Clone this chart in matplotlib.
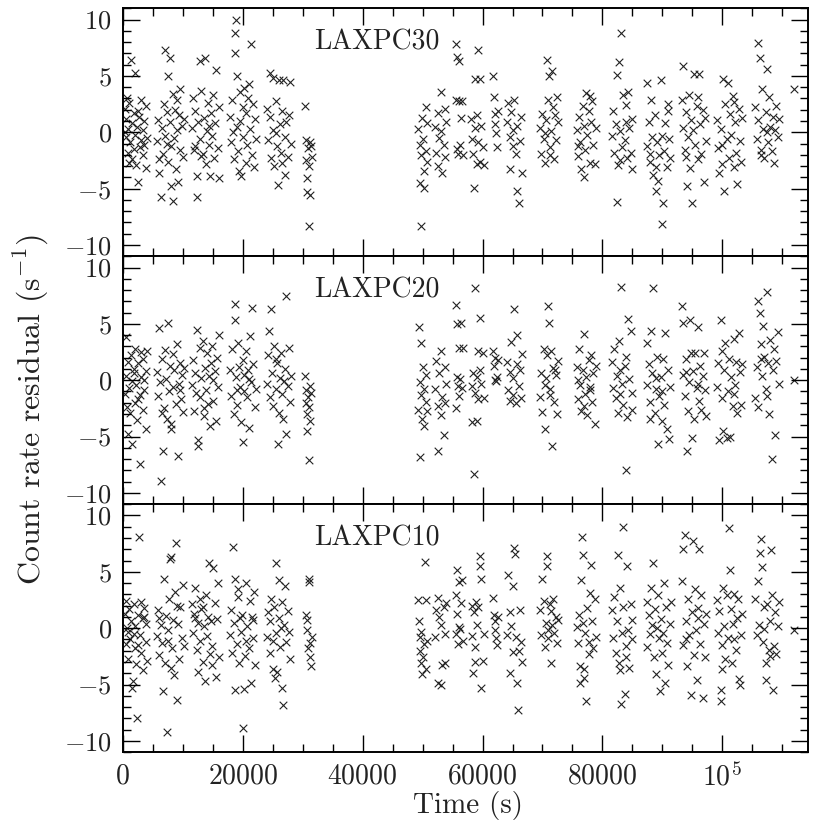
import numpy as np
import matplotlib.pyplot as plt
from matplotlib.ticker import MultipleLocator

plt.rcParams['font.family'] = ['cmr10', 'DejaVu Serif']
plt.rcParams['mathtext.fontset'] = 'cm'
plt.rcParams['axes.unicode_minus'] = False

# (time in ks, count rate residual in counts/s)
laxpc30 = [
    (0.3,2.1),(0.5,-0.4),(0.6,1.2),(0.8,-1.8),(0.9,0.3),(1.1,2.6),(1.2,-0.9),(1.4,6.4),(1.5,0.8),(1.6,-2.4),
    (1.8,1.7),(2.0,5.3),(2.1,-0.2),(2.2,-2.9),(2.4,0.5),(2.6,-4.4),(2.7,1.4),(2.9,-1.3),(3.0,2.9),(3.1,-0.7),
    (3.3,0.2),(3.4,-2.0),(3.6,1.0),(3.8,-3.2),(3.9,2.3),(4.1,-0.5),(0.7,3.0),(1.9,-1.5),(2.5,1.9),(3.5,-1.1),
    (0.4,0.0),(1.0,-2.7),
    (5.7,-0.8),(5.9,1.1),(6.1,-3.6),(6.3,-5.7),(6.5,0.4),(6.7,-1.9),(6.9,2.5),(7.0,7.3),(7.1,-0.3),(7.3,1.8),
    (7.5,5.0),(7.6,-2.6),(7.8,6.6),(7.9,0.9),(8.1,-1.2),(8.3,3.4),(8.4,-6.1),(8.5,-0.5),(8.7,2.0),(8.8,-3.3),
    (9.0,0.2),(9.2,-4.4),(9.3,1.5),(9.5,-1.6),(9.6,3.8),(9.8,0.6),(10.0,-2.2),(10.2,1.2),(6.0,-2.4),(8.0,-4.8),
    (9.1,2.9),(7.4,-1.0),
    (11.5,0.4),(11.7,3.0),(11.9,-1.6),(12.1,1.9),(12.3,-3.9),(12.4,-5.7),(12.6,0.9),(12.8,6.3),(12.9,-0.6),(13.1,3.7),
    (13.3,-1.9),(13.5,1.3),(13.7,6.6),(13.8,-2.8),(14.0,0.1),(14.2,2.6),(14.3,-1.1),(14.5,-3.9),(14.7,1.7),(14.9,-0.3),
    (15.0,3.3),(15.2,-2.3),(15.4,0.8),(15.6,5.5),(15.8,-1.4),(16.0,2.2),(16.1,-4.1),(12.0,-1.2),(13.0,-2.1),(14.4,0.6),
    (17.9,1.4),(18.1,-0.9),(18.3,2.9),(18.5,-2.4),(18.7,8.8),(18.8,7.0),(18.9,10.0),(19.0,0.5),(19.1,5.0),(19.3,-1.7),
    (19.5,3.6),(19.6,1.0),(19.8,-3.9),(20.0,2.2),(20.1,-0.4),(20.3,3.9),(20.5,-2.7),(20.6,1.7),(20.8,-1.1),(21.0,4.3),
    (21.2,0.3),(21.4,7.8),(21.5,-2.0),(21.7,2.5),(21.9,-3.1),(22.1,1.2),(22.2,-0.6),(18.4,0.0),(19.4,-3.4),(20.9,3.0),
    (24.1,2.1),(24.3,-0.7),(24.5,5.3),(24.6,1.4),(24.8,-2.3),(25.0,4.8),(25.1,0.2),(25.3,-3.0),(25.5,2.8),(25.7,-1.2),
    (25.9,-4.7),(26.0,4.6),(26.2,0.7),(26.4,-1.8),(26.6,1.9),(26.8,4.6),(27.0,-0.4),(27.1,-3.8),(27.3,0.9),(27.5,-2.2),
    (27.7,1.5),(27.9,4.5),(28.0,-1.0),(25.6,-0.1),(26.5,-2.7),
    (30.4,2.3),(30.5,-0.7),(30.6,-2.5),(30.7,-4.1),(30.8,-5.3),(30.9,-1.4),(31.0,-8.3),(31.1,-3.0),(31.2,-0.9),(31.3,-5.6),
    (31.4,-1.2),(31.5,-2.2),
    (49.3,0.3),(49.5,-1.1),(49.6,-4.5),(49.7,-8.3),(49.8,-2.0),(49.9,1.3),(50.1,-0.6),(50.2,-4.9),(50.3,-3.4),(50.5,-1.7),
    (50.6,2.2),(50.7,0.8),(50.8,-2.6),
    (52.1,0.5),(52.3,-1.8),(52.5,-3.0),(52.6,1.7),(52.8,-0.5),(53.0,3.6),(53.1,0.1),(53.3,-3.6),(53.5,-1.1),(53.7,2.1),
    (53.8,-2.2),(53.9,0.9),
    (55.5,7.8),(55.6,2.9),(55.7,-1.5),(55.8,6.7),(55.9,-1.9),(56.0,2.8),(56.1,6.3),(56.3,-1.1),(56.4,1.3),(56.6,2.8),
    (56.7,-2.0),
    (58.1,1.2),(58.3,-0.6),(58.4,-1.9),(58.5,-4.9),(58.7,0.4),(58.8,4.7),(59.0,-2.8),(59.1,1.5),(59.2,7.3),(59.3,-0.9),
    (59.5,4.7),(59.6,-2.6),(59.8,0.6),(60.0,-1.3),(60.2,-2.9),
    (61.8,5.0),(61.9,3.1),(62.0,1.6),(62.1,0.7),(62.2,-0.1),(62.4,-1.3),(62.5,1.9),
    (64.1,0.9),(64.3,2.6),(64.5,-0.4),(64.6,-3.3),(64.8,1.8),(65.0,-1.2),(65.1,0.2),(65.3,2.9),(65.5,-1.9),(65.7,-5.2),
    (65.8,0.6),(66.0,-6.3),(66.2,-0.8),(66.4,1.4),(66.6,-3.6),
    (69.6,0.4),(69.8,-1.9),(70.0,1.6),(70.2,-0.6),(70.4,-2.7),(70.6,1.1),(70.8,6.4),(70.9,2.9),(71.1,5.0),(71.2,-1.3),
    (71.4,0.1),(71.6,5.4),(71.8,2.2),(72.0,-2.4),(72.2,-0.7),(72.4,3.1),(72.6,0.9),(70.5,-0.1),(71.3,-2.0),(72.1,1.5),
    (75.7,0.2),(75.9,-2.1),(76.1,1.4),(76.3,-0.9),(76.5,-3.3),(76.7,2.3),(76.9,0.6),(77.1,-1.6),(77.3,3.5),(77.5,-0.2),
    (77.7,1.9),(77.9,-2.7),(78.1,0.9),(78.3,2.8),(78.5,-1.1),(78.7,-2.8),(78.9,0.4),(76.0,-1.2),(77.0,-4.0),(78.0,3.2),
    (81.6,-0.3),(81.8,1.9),(82.0,-1.8),(82.2,0.7),(82.4,5.1),(82.5,-6.2),(82.6,-2.9),(82.8,6.2),(82.9,0.1),(83.1,8.8),
    (83.3,-1.3),(83.5,3.3),(83.7,-0.7),(83.9,2.4),(84.1,-2.3),(84.3,3.6),(84.5,0.4),(84.7,-1.8),(84.9,-3.3),(85.0,1.2),
    (83.0,-2.5),(84.0,0.9),
    (87.4,4.4),(87.5,-1.2),(87.7,0.9),(87.9,-2.6),(88.1,2.9),(88.3,-0.4),(88.5,-3.8),(88.7,1.5),(88.9,-5.2),(89.1,-0.9),
    (89.3,-4.3),(89.5,-2.0),(89.7,4.6),(89.9,-8.1),(90.1,-6.3),(90.3,-1.7),(90.5,0.8),(90.7,-3.1),(90.9,1.9),(91.1,-0.6),
    (91.3,-2.3),(88.0,-1.9),(89.0,-3.1),(90.0,-0.3),(91.0,2.5),
    (93.2,2.9),(93.4,0.4),(93.5,5.9),(93.7,-1.6),(93.9,1.8),(94.1,-4.8),(94.2,-0.4),(94.4,3.3),(94.6,-3.2),(94.8,1.1),
    (95.0,-6.3),(95.1,0.2),(95.3,5.2),(95.5,-1.1),(95.7,2.3),(95.9,-2.4),(96.1,5.2),(96.3,0.7),(96.5,-1.9),(96.7,2.0),
    (96.9,-4.4),(97.1,1.3),(97.3,-0.8),(94.0,-2.2),(96.0,3.1),
    (99.1,1.1),(99.3,-1.4),(99.5,-3.6),(99.7,0.3),(99.9,-1.1),(100.1,4.7),(100.3,-5.2),(100.5,2.5),(100.7,-0.6),(100.9,4.4),
    (101.1,-2.3),(101.3,1.6),(101.5,-0.2),(101.7,3.2),(101.9,-3.1),(102.1,0.9),(102.3,-1.8),(102.5,-4.6),(102.7,2.1),(102.9,-0.8),
    (103.1,-2.6),(103.3,1.3),(100.0,-2.8),(102.0,2.7),
    (105.5,2.2),(105.7,-0.6),(105.9,7.9),(106.0,1.1),(106.2,6.6),(106.4,-1.6),(106.6,3.8),(106.8,0.3),(107.0,-2.3),(107.2,1.8),
    (107.4,5.6),(107.6,-0.9),(107.8,3.1),(108.0,0.5),(108.2,-1.7),(108.4,1.4),(108.6,-2.7),(108.8,0.2),(109.0,2.3),(109.2,-0.4),
    (109.4,1.2),(106.5,-2.0),(107.5,0.0),
    (112.0,3.8),
]

laxpc20 = [
    (0.3,-1.2),(0.5,3.8),(0.6,0.4),(0.8,-4.8),(0.9,1.6),(1.1,-0.7),(1.2,-2.9),(1.4,2.2),(1.5,-0.1),(1.6,-5.7),
    (1.8,1.0),(2.0,-2.0),(2.1,2.8),(2.2,-0.4),(2.4,-3.5),(2.6,1.5),(2.8,-7.4),(2.9,-1.3),(3.0,2.5),(3.1,0.3),
    (3.3,-2.6),(3.4,1.9),(3.6,-0.9),(3.8,-4.3),(3.9,0.8),(4.1,2.6),(0.7,-2.4),(1.9,0.6),(2.5,-1.7),(3.5,0.0),
    (5.7,0.7),(5.9,-1.4),(6.0,4.6),(6.2,-0.2),(6.4,-8.9),(6.5,1.9),(6.7,-6.3),(6.9,-2.5),(7.0,2.7),(7.2,0.1),
    (7.4,-3.4),(7.6,5.1),(7.7,-1.0),(7.9,1.3),(8.1,-3.9),(8.3,2.3),(8.4,-0.6),(8.6,0.9),(8.8,-2.1),(9.0,3.2),
    (9.2,-6.7),(9.3,-0.3),(9.5,1.5),(9.7,-1.7),(9.9,0.5),(10.1,-2.8),(10.2,1.1),(6.6,-2.9),(8.0,-4.3),(9.6,-0.9),
    (11.5,-0.4),(11.7,1.8),(11.9,-2.7),(12.1,0.6),(12.3,4.5),(12.5,-5.3),(12.6,-5.8),(12.8,2.9),(12.9,-1.5),(13.1,0.2),
    (13.3,3.5),(13.5,-3.2),(13.7,1.1),(13.8,-0.9),(14.0,2.4),(14.2,-2.1),(14.4,0.4),(14.5,-4.1),(14.7,1.5),(14.9,3.0),
    (15.1,-1.8),(15.3,0.8),(15.5,-3.6),(15.7,2.0),(15.9,-0.6),(16.1,4.0),(12.2,-1.1),(13.6,-2.5),(15.0,0.0),
    (17.9,0.9),(18.1,-1.4),(18.3,2.8),(18.5,-3.0),(18.7,5.3),(18.8,6.8),(18.9,0.3),(19.1,-2.2),(19.3,3.3),(19.4,1.2),
    (19.6,-0.6),(19.8,-3.7),(20.0,1.8),(20.1,-5.5),(20.3,0.5),(20.5,2.6),(20.7,-1.5),(20.9,0.9),(21.1,-4.2),(21.2,3.9),
    (21.4,-0.2),(21.6,6.4),(21.8,1.4),(22.0,-2.4),(22.2,-0.8),(19.0,-0.9),(20.2,-1.0),(21.0,0.1),
    (24.1,-0.3),(24.3,2.2),(24.4,4.4),(24.6,-1.5),(24.8,6.3),(24.9,0.6),(25.1,-2.3),(25.3,3.0),(25.5,-0.8),(25.7,1.5),
    (25.9,-5.7),(26.0,-2.9),(26.2,0.2),(26.4,2.4),(26.6,-1.2),(26.8,-3.4),(27.0,1.0),(27.2,-4.8),(27.3,7.5),(27.5,-0.5),
    (27.7,2.9),(27.9,-1.9),(28.0,0.4),(25.6,1.9),(26.9,-0.1),
    (30.4,0.4),(30.5,-0.9),(30.6,-2.0),(30.7,-3.0),(30.8,-4.5),(30.9,-1.5),(31.0,-7.1),(31.1,-2.4),(31.2,-0.5),(31.3,-3.6),
    (31.4,-1.1),
    (49.3,-2.6),(49.4,4.7),(49.5,-0.2),(49.6,-6.8),(49.7,-1.3),(49.8,3.3),(49.9,-3.4),(50.1,1.2),(50.2,-0.8),(50.3,-4.1),
    (50.5,-1.9),(50.6,0.5),(50.8,-2.7),
    (52.1,-0.8),(52.3,1.7),(52.5,-2.3),(52.6,-6.3),(52.8,0.6),(53.0,-3.1),(53.1,2.6),(53.3,-1.5),(53.5,-4.9),(53.7,1.2),
    (53.8,-2.0),(53.9,-0.3),
    (55.5,-2.5),(55.6,6.7),(55.7,0.3),(55.8,5.0),(55.9,-0.5),(56.0,2.9),(56.1,-1.4),(56.3,0.1),(56.4,5.1),(56.6,-0.7),
    (56.7,2.9),
    (58.2,-0.5),(58.3,-3.7),(58.4,0.6),(58.5,-8.3),(58.7,-1.1),(58.8,8.2),(59.0,0.3),(59.1,-3.6),(59.2,2.6),(59.3,-1.7),
    (59.5,5.5),(59.6,0.9),(59.8,-0.3),(60.0,2.4),(60.2,-1.6),
    (61.8,2.6),(61.9,1.3),(62.0,0.0),(62.1,2.0),(62.2,-0.1),(62.4,0.3),(62.5,1.8),
    (64.1,1.6),(64.3,-0.9),(64.5,-1.8),(64.6,0.7),(64.8,3.4),(65.0,-1.3),(65.1,0.2),(65.3,6.3),(65.5,-2.0),(65.7,1.4),
    (65.8,4.0),(66.0,-0.5),(66.2,0.9),(66.4,-1.6),(66.6,2.3),
    (69.6,-1.5),(69.8,0.6),(70.0,-2.8),(70.2,2.8),(70.4,-4.3),(70.6,0.2),(70.8,2.2),(70.9,6.6),(71.1,5.1),(71.2,-0.8),
    (71.4,2.6),(71.6,-5.8),(71.8,1.1),(72.0,-1.9),(72.2,0.5),(72.4,-3.0),(72.6,1.7),(70.5,-0.4),(71.3,-1.3),(72.1,0.9),
    (75.7,1.2),(75.9,-1.7),(76.1,2.8),(76.3,-0.4),(76.5,-2.7),(76.7,0.9),(76.9,4.1),(77.1,-1.2),(77.3,0.3),(77.5,-3.1),
    (77.7,1.8),(77.9,-0.6),(78.1,2.2),(78.3,-1.9),(78.5,0.6),(78.7,-3.9),(78.9,1.3),(76.0,0.0),(77.0,-2.3),(78.0,-0.9),
    (81.6,1.6),(81.8,-0.7),(82.0,2.8),(82.2,-1.6),(82.4,0.4),(82.6,-2.9),(82.8,3.5),(82.9,0.9),(83.1,8.3),(83.3,-0.3),
    (83.5,-2.2),(83.7,1.3),(83.9,-8.0),(84.1,-3.3),(84.3,5.4),(84.5,0.1),(84.7,4.4),(84.9,-1.1),(85.0,-2.6),(83.0,-1.2),
    (84.0,2.1),
    (87.4,3.3),(87.5,-0.4),(87.7,1.4),(87.9,-1.9),(88.1,4.4),(88.3,0.6),(88.5,8.2),(88.7,-2.9),(88.9,-0.8),(89.1,2.1),
    (89.3,-5.7),(89.5,-1.4),(89.7,0.3),(89.9,-3.6),(90.1,1.9),(90.3,-2.2),(90.5,4.2),(90.7,-4.3),(90.9,0.9),(91.1,-5.2),
    (91.3,-0.6),(88.0,-3.4),(89.0,0.2),(90.0,-1.0),
    (93.2,6.6),(93.4,0.5),(93.5,5.1),(93.7,-1.4),(93.9,1.9),(94.1,-6.3),(94.2,-2.7),(94.4,-0.2),(94.6,5.3),(94.8,2.4),
    (95.0,-5.1),(95.1,0.8),(95.3,-3.4),(95.5,2.4),(95.7,-0.7),(95.9,4.7),(96.1,-1.8),(96.3,1.3),(96.5,-2.6),(96.7,0.4),
    (96.9,2.4),(97.1,-0.9),(97.3,-3.2),(94.0,0.7),(96.0,-0.3),
    (99.1,-0.6),(99.3,1.5),(99.5,-5.3),(99.7,5.3),(99.9,-1.6),(100.1,-4.5),(100.3,0.9),(100.5,3.3),(100.7,-5.1),(100.9,-1.0),
    (101.1,1.9),(101.3,-5.0),(101.5,0.3),(101.7,-2.3),(101.9,3.7),(102.1,-0.4),(102.3,1.6),(102.5,-2.9),(102.7,4.2),(102.9,0.7),
    (103.1,-2.2),(103.3,1.4),(100.0,2.6),(102.0,-1.2),
    (105.5,-1.6),(105.7,1.2),(105.9,7.0),(106.0,-2.4),(106.2,6.0),(106.4,3.2),(106.6,0.4),(106.8,4.8),(107.0,2.1),(107.2,-0.8),
    (107.4,7.8),(107.6,1.5),(107.8,-3.0),(108.0,3.6),(108.2,-7.0),(108.4,0.9),(108.6,2.8),(108.8,-4.9),(109.0,1.7),(109.2,4.3),
    (109.4,-0.3),(106.5,1.9),(107.5,-1.4),
    (112.0,0.0),
]

laxpc10 = [
    (0.3,1.3),(0.5,-1.4),(0.6,2.4),(0.8,-0.3),(0.9,-2.7),(1.1,1.7),(1.2,-1.0),(1.4,0.6),(1.5,-5.3),(1.7,-4.7),
    (1.8,2.1),(2.0,-1.8),(2.1,0.2),(2.2,-3.2),(2.4,-8.0),(2.5,1.2),(2.7,8.1),(2.9,-0.6),(3.0,2.3),(3.1,-2.2),
    (3.3,0.9),(3.4,-3.7),(3.6,1.8),(3.8,-1.2),(3.9,0.4),(4.1,-2.9),(0.7,0.0),(1.9,-0.5),(2.6,-1.5),(3.5,1.0),
    (5.7,-0.7),(5.9,1.6),(6.1,-2.4),(6.3,0.3),(6.5,-1.3),(6.7,-5.6),(6.8,4.4),(7.0,-3.1),(7.2,1.1),(7.4,-9.2),
    (7.5,-0.2),(7.7,2.6),(7.9,6.1),(8.1,6.3),(8.2,-1.8),(8.4,0.7),(8.6,-4.2),(8.7,3.2),(8.9,7.6),(9.0,-6.4),
    (9.2,0.4),(9.4,-2.7),(9.6,1.9),(9.8,-0.9),(10.0,3.8),(10.2,-1.6),(6.0,0.9),(7.6,-1.1),(9.1,2.0),(8.0,-3.5),
    (11.5,2.1),(11.7,-0.4),(11.9,1.3),(12.1,3.6),(12.3,-1.9),(12.5,0.5),(12.6,-3.9),(12.8,2.6),(12.9,-1.1),(13.1,1.7),
    (13.3,-3.0),(13.5,0.2),(13.7,-4.7),(13.8,2.9),(14.0,-0.7),(14.2,1.0),(14.4,5.8),(14.5,-2.3),(14.7,0.6),(14.9,-1.6),
    (15.1,5.3),(15.3,2.2),(15.5,-4.3),(15.7,0.8),(15.9,4.0),(16.1,-2.6),(12.0,0.9),(13.4,1.9),(14.8,-3.3),
    (17.9,-0.6),(18.1,1.6),(18.3,-2.2),(18.4,7.2),(18.6,0.5),(18.7,-5.5),(18.8,4.4),(19.0,-1.4),(19.2,2.8),(19.4,-3.1),
    (19.5,0.9),(19.7,-0.3),(19.9,1.2),(20.1,-8.9),(20.2,-5.4),(20.4,-2.5),(20.6,4.0),(20.8,0.2),(21.0,-1.8),(21.2,2.4),
    (21.4,-4.9),(21.5,1.0),(21.7,-0.9),(21.9,3.2),(22.1,-3.3),(19.3,3.5),(20.5,-1.1),(21.8,0.7),
    (24.1,-0.8),(24.3,1.4),(24.5,-2.2),(24.6,0.6),(24.8,2.6),(25.0,-3.6),(25.1,-1.1),(25.3,1.9),(25.5,-0.4),(25.6,5.8),
    (25.8,-3.9),(26.0,4.3),(26.1,0.9),(26.3,-1.7),(26.5,2.3),(26.6,-5.3),(26.7,-6.8),(26.9,0.3),(27.1,3.7),(27.3,-1.2),
    (27.5,1.5),(27.7,-0.3),(27.9,-2.7),(25.4,-4.4),(26.4,0.0),
    (30.6,1.2),(30.7,-0.2),(30.8,0.7),(30.9,-1.8),(31.0,4.4),(31.1,4.1),(31.2,-1.3),(31.3,-2.6),(31.4,-3.4),(31.5,-0.8),
    (49.3,2.5),(49.4,0.6),(49.5,-0.8),(49.6,-2.0),(49.7,-3.1),(49.8,-0.3),(49.9,-4.1),(50.1,-2.6),(50.2,-1.4),(50.4,5.9),
    (50.5,2.5),(50.6,-3.6),(50.8,-1.1),
    (52.1,-0.8),(52.3,1.6),(52.5,2.7),(52.6,-4.9),(52.8,1.0),(53.0,-5.0),(53.1,0.3),(53.3,-3.3),(53.5,1.9),(53.7,-0.5),
    (53.9,2.2),(53.8,-3.1),
    (55.5,2.9),(55.6,-0.5),(55.7,5.2),(55.8,1.3),(55.9,-1.4),(56.0,4.1),(56.1,0.1),(56.3,-0.1),(56.4,2.2),(56.6,4.3),
    (56.7,-1.1),
    (58.2,-0.7),(58.3,2.0),(58.4,-4.0),(58.5,1.4),(58.7,-1.7),(58.8,-3.0),(58.9,2.3),(59.1,0.3),(59.3,1.9),(59.5,6.4),
    (59.6,5.5),(59.7,4.4),(59.8,-5.3),(60.0,-2.9),(60.2,-0.5),
    (61.8,2.7),(61.9,1.2),(62.0,0.6),(62.1,-0.2),(62.2,-0.9),(62.4,-1.5),(62.5,1.0),
    (64.1,-0.6),(64.3,4.7),(64.5,1.4),(64.6,-4.0),(64.8,0.2),(65.0,-2.1),(65.1,3.7),(65.3,7.1),(65.4,6.6),(65.5,-0.8),
    (65.7,-4.9),(65.9,-7.3),(66.0,-2.0),(66.2,1.6),(66.4,-1.2),(66.6,-3.0),
    (69.6,1.6),(69.8,-0.6),(70.0,4.4),(70.2,2.4),(70.4,-1.7),(70.6,0.5),(70.7,6.4),(70.8,5.5),(71.0,-0.9),(71.2,2.1),
    (71.4,-3.1),(71.6,0.3),(71.8,2.6),(72.0,-0.4),(72.2,1.0),(72.4,-1.3),(72.6,0.7),(70.9,-0.2),(71.5,1.5),
    (75.7,0.1),(75.9,-1.3),(76.1,1.2),(76.3,-3.4),(76.5,4.3),(76.6,8.1),(76.7,6.5),(76.9,-4.4),(77.1,-0.4),(77.3,-6.5),
    (77.5,1.8),(77.7,-2.3),(77.9,3.1),(78.1,5.6),(78.3,0.6),(78.5,-1.8),(78.7,2.6),(78.9,-0.8),(76.2,-4.9),(77.0,-3.6),
    (77.8,-1.2),(76.8,0.5),
    (81.6,1.6),(81.8,-0.9),(82.0,2.8),(82.2,-2.2),(82.4,0.6),(82.6,6.5),(82.7,-3.1),(82.9,3.6),(83.1,-6.7),(83.2,-0.4),
    (83.4,1.9),(83.5,9.0),(83.7,-5.8),(83.9,-1.6),(84.1,5.5),(84.3,-0.2),(84.5,-3.5),(84.7,2.1),(84.9,-1.0),(85.0,0.7),
    (83.0,-3.7),(84.0,-2.6),
    (87.4,2.3),(87.5,-1.7),(87.7,1.2),(87.9,-0.5),(88.1,3.6),(88.3,0.3),(88.4,5.8),(88.6,-2.6),(88.8,1.7),(89.0,-4.1),
    (89.2,2.9),(89.4,-0.9),(89.6,-5.6),(89.8,0.8),(90.0,-2.2),(90.2,4.0),(90.4,-4.9),(90.6,1.9),(90.8,-1.3),(91.0,-3.3),
    (91.2,0.4),(91.4,2.3),(89.1,0.0),(90.1,-0.4),
    (93.2,4.2),(93.4,-1.5),(93.5,7.0),(93.7,8.3),(93.9,0.6),(94.1,-3.4),(94.3,2.6),(94.5,-0.6),(94.7,-5.9),(94.9,1.4),
    (95.1,7.7),(95.2,-2.4),(95.4,3.5),(95.6,-0.2),(95.8,-4.6),(96.0,1.8),(96.1,7.0),(96.3,-1.4),(96.5,2.9),(96.7,-6.2),
    (96.9,0.4),(97.1,-2.6),(97.3,1.3),(94.0,-1.0),(95.9,0.9),
    (99.1,2.5),(99.3,-0.4),(99.5,1.5),(99.7,-5.5),(99.8,-6.5),(99.9,-1.5),(100.1,3.6),(100.3,0.2),(100.5,-2.7),(100.7,2.9),
    (100.9,-0.9),(101.1,8.9),(101.2,5.2),(101.4,1.7),(101.6,-3.1),(101.8,0.4),(102.0,3.0),(102.2,-1.9),(102.4,0.9),(102.6,2.6),
    (102.8,-4.5),(102.9,-5.0),(103.1,-0.6),(103.3,1.3),(100.0,-3.6),(101.9,-1.0),
    (105.5,2.6),(105.7,-0.6),(105.9,4.2),(106.1,0.3),(106.3,6.7),(106.4,7.9),(106.6,5.4),(106.8,-1.2),(107.0,1.9),(107.2,-3.1),
    (107.3,-4.6),(107.5,2.1),(107.7,-1.9),(107.9,0.6),(108.1,6.9),(108.3,2.9),(108.4,-5.5),(108.6,-1.6),(108.8,1.4),(109.0,-2.3),
    (109.2,0.2),(109.4,2.3),(106.9,-0.1),(108.0,-2.5),
    (112.0,-0.2),
]

names = ['LAXPC30', 'LAXPC20', 'LAXPC10']
xticks = [0, 20000, 40000, 60000, 80000, 100000]
xticklabels = ['$0$', '$20000$', '$40000$', '$60000$', '$80000$', r'$10^5$']
yticks = [-10, -5, 0, 5, 10]
yticklabels = ['$-10$', '$-5$', '$0$', '$5$', '$10$']

fig = plt.figure(figsize=(8.13, 8.32), dpi=100)
axes = fig.subplots(3, 1, sharex=True)
fig.subplots_adjust(left=0.151, right=0.994, bottom=0.096, top=0.990, hspace=0)

for ax, name, data in zip(axes, names, [laxpc30, laxpc20, laxpc10]):
    d = np.array(data)
    ax.scatter(d[:, 0] * 1000, d[:, 1], marker='x', s=30, c='#222222', linewidths=0.8)
    ax.set_xlim(0, 114300)
    ax.set_ylim(-11, 11)
    ax.set_yticks(yticks)
    ax.set_yticklabels(yticklabels)
    ax.yaxis.set_minor_locator(MultipleLocator(1))
    ax.xaxis.set_minor_locator(MultipleLocator(5000))
    ax.tick_params(which='both', direction='in', top=True, right=True, labelcolor='#222222')
    ax.tick_params(which='major', length=12, width=1)
    ax.tick_params(which='minor', length=6, width=1)
    ax.tick_params(axis='y', pad=8, labelsize=19)
    ax.tick_params(axis='x', pad=8, labelsize=20)
    for s in ax.spines.values():
        s.set_linewidth(1.4)
    ax.text(42300, 8.0, name, fontsize=20, ha='center', va='center', color='#222222')

axes[-1].set_xticks(xticks)
axes[-1].set_xticklabels(xticklabels)

fig.text(0.039, 0.507, r'Count rate residual (s$^{-1}$)', rotation=90,
         ha='center', va='center', fontsize=23, color='#222222')
fig.text(0.576, 0.032, 'Time (s)', ha='center', va='center', fontsize=21, color='#222222')

fig.savefig('out.png', dpi=100)
